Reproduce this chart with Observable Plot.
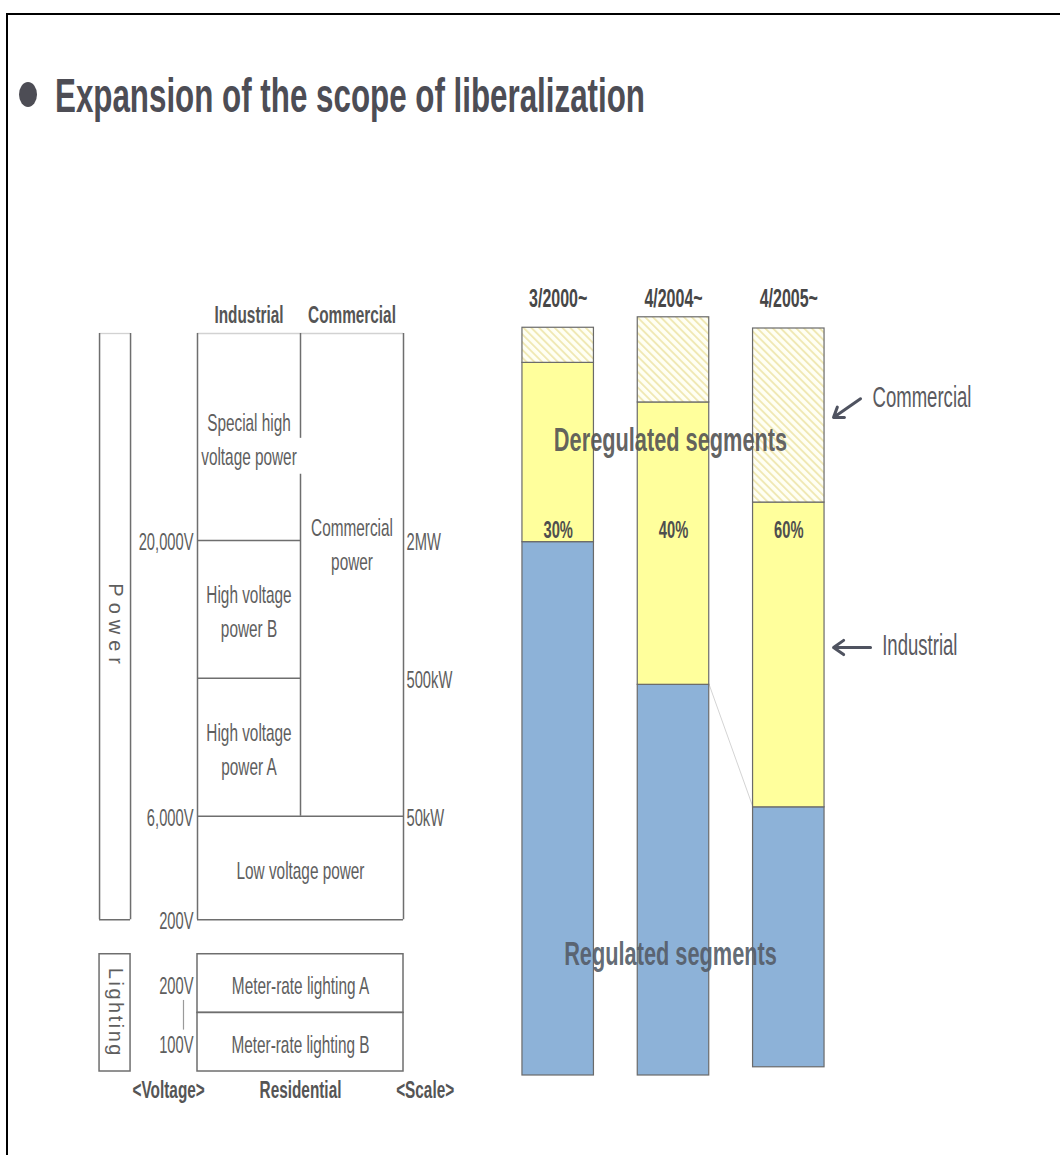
<!DOCTYPE html>
<html>
<head>
<meta charset="utf-8">
<script src="https://cdn.jsdelivr.net/npm/d3@7"></script>
<script src="https://cdn.jsdelivr.net/npm/@observablehq/plot@0.6"></script>
<style>
html, body { margin: 0; padding: 0; background: #fff; overflow: hidden; }
#page { position: relative; width: 1060px; height: 1155px; overflow: hidden; background: #fff;
  font-family: "Liberation Sans", Arial, Helvetica, sans-serif; }
#frame { position: absolute; left: 6px; top: 13px; width: 1100px; height: 1200px;
  border-left: 2px solid #000; border-top: 2px solid #000; }
#bullet { position: absolute; left: 19px; top: 82px; width: 18px; height: 25px; border-radius: 50%; background: #4d4d55; }
#title { position: absolute; left: 55px; top: 71px; font-weight: bold; font-size: 49px; line-height: 1;
  color: #4d4d55; white-space: nowrap; transform-origin: 0 0; }
.layer { position: absolute; left: 0; top: 0; }
</style>
</head>
<body>
<div id="page">
  <div id="frame"></div>
  <div id="bullet"></div>
  <div id="title">Expansion of the scope of liberalization</div>
  <div id="left" class="layer"></div>
  <div id="right" class="layer"></div>
</div>
<script>
// ---------------- data: left diagram (tariff categories) ----------------
const columns = ["Industrial", "Commercial"];
const tierNames = ["Special high\nvoltage power", "High voltage\npower B", "High voltage\npower A",
  "Commercial\npower", "Low voltage power", "Meter-rate lighting A", "Meter-rate lighting B"];
const tierGroup = ["Industrial", "Industrial", "Industrial", "Commercial", "Power", "Lighting", "Lighting"];
const tierTop = [0, 3, 5, 0, 7, 9, 9.85];
const tierBottom = [3, 5, 7, 7, 8.5, 9.85, 10.7];
const voltageLabels = ["20,000V", "6,000V", "200V"];
const voltageLevels = [3, 7, 8.5];
const scaleLabels = ["2MW", "500kW", "50kW"];
const scaleLevels = [3, 5, 7];
const lightingVoltages = ["200V", "100V"];
const sideGroups = ["Power", "Lighting"];
const sideTop = [0, 9];
const sideBottom = [8.5, 10.7];
const footerLabels = ["<Voltage>", "Residential", "<Scale>"];

// ---------------- data: right chart (share of market liberalized) ----------------
const periods = ["3/2000~", "4/2004~", "4/2005~"];
const regulated = [71.4, 52.3, 34.8];
const industrial = [24.0, 37.8, 40.8];
const commercial = [4.7, 11.4, 23.3];
const baseline = [0, 0, 1.1];
const shares = ["30%", "40%", "60%"];
const annotationLabels = ["Commercial", "Industrial"];

// ---------------- styling ----------------
const FONT = '"Liberation Sans", Arial, Helvetica, sans-serif';
const SQUEEZE = 0.64;
const LINE = "#6e6e6e";
const TXT = "#5e5e5e";
const BLUE = "#8db2d8";
const YELLOW = "#ffff9c";
const EDGE = "#6a6a6a";

// ---------------- left diagram ----------------
const span = {Industrial: [0, 1], Commercial: [1, 2], Power: [0, 2], Lighting: [0, 2]};
const tiers = tierNames.map((name, i) => ({name, group: tierGroup[i], top: tierTop[i], bottom: tierBottom[i]}));
const industrialBreaks = tiers.filter(d => d.group === "Industrial").map(d => d.bottom).slice(0, -1);
const powerBottom = tiers.find(d => d.group === "Power").bottom;
const commercialTier = tiers.find(d => d.group === "Commercial");
const lightingTiers = tiers.filter(d => d.group === "Lighting");
const SIDE = [-0.951, -0.65];

const leftSvg = Plot.plot({
  width: 1060, height: 1155, margin: 0,
  x: {domain: [0, 2], range: [197, 403], axis: null},
  y: {domain: [0, 10.7], range: [333, 1071], axis: null},
  style: {background: "transparent", fontFamily: FONT},
  marks: [
    // main power block
    Plot.ruleY([0], {x1: 0, x2: 2, stroke: "#d2d2d2", strokeWidth: 1.3}),
    Plot.ruleX([0, 2], {y1: 0, y2: powerBottom, stroke: LINE, strokeWidth: 1.5}),
    Plot.ruleY(industrialBreaks, {x1: 0, x2: 1, stroke: LINE, strokeWidth: 1.5}),
    Plot.ruleY([commercialTier.bottom, powerBottom], {x1: 0, x2: 2, stroke: LINE, strokeWidth: 1.5}),
    Plot.ruleX([[0, 1.52], [2.04, commercialTier.bottom]], {x: () => 1, y1: d => d[0], y2: d => d[1], stroke: LINE, strokeWidth: 1.5}),
    // lighting block
    Plot.rect(lightingTiers, {x1: 0, x2: 2, y1: "top", y2: "bottom", fill: "none", stroke: LINE, strokeWidth: 1.5}),
    // side brackets
    Plot.ruleY([0], {x1: SIDE[0], x2: SIDE[1], stroke: "#d2d2d2", strokeWidth: 1.3}),
    Plot.ruleX(SIDE, {y1: sideTop[0], y2: sideBottom[0], stroke: LINE, strokeWidth: 1.5}),
    Plot.ruleY([sideBottom[0]], {x1: SIDE[0], x2: SIDE[1], stroke: LINE, strokeWidth: 1.5}),
    Plot.rect([sideGroups[1]], {x1: SIDE[0], x2: SIDE[1], y1: sideTop[1], y2: sideBottom[1], fill: "none", stroke: LINE, strokeWidth: 1.5}),
    Plot.ruleX([-0.136], {y1: 9.67, y2: 10.1, stroke: "#9a9a9a", strokeWidth: 1.2}),
    // tier names
    Plot.text(tiers, {
      x: d => (span[d.group][0] + span[d.group][1]) / 2,
      y: d => d.group === "Commercial" ? d.top + 3.02 : (d.top + d.bottom) / 2,
      text: "name", fontSize: 24, lineHeight: 1.42, fill: TXT
    }),
    // column headers
    Plot.text(columns, {x: (d, i) => i + 0.5, y: () => -0.26, text: d => d, fontSize: 24, fontWeight: "bold", fill: "#555"}),
    // voltage and scale labels
    Plot.text(voltageLabels, {x: () => 0, y: (d, i) => voltageLevels[i], text: d => d, textAnchor: "end", dx: -4, dy: 2, fontSize: 23, fill: TXT}),
    Plot.text(scaleLabels, {x: () => 2, y: (d, i) => scaleLevels[i], text: d => d, textAnchor: "start", dx: 3, dy: 2, fontSize: 23, fill: TXT}),
    Plot.text(lightingVoltages, {x: () => 0, y: (d, i) => (lightingTiers[i].top + lightingTiers[i].bottom) / 2 + 0.05, text: d => d, textAnchor: "end", dx: -4, fontSize: 23, fill: TXT}),
    // side labels (vertical)
    Plot.text(sideGroups, {x: () => (SIDE[0] + SIDE[1]) / 2, y: (d, i) => (sideTop[i] + sideBottom[i]) / 2, text: d => d, rotate: 90, fontSize: 20, fill: TXT}),
    // footer
    Plot.text(footerLabels, {x: (d, i) => [-0.28, 1, 2.21][i], y: () => 10.97, text: d => d, fontSize: 24, fontWeight: "bold", fill: "#555"})
  ]
});
document.getElementById("left").appendChild(leftSvg);

// ---------------- right chart ----------------
const BW = 0.31;
const rows = periods.map((period, i) => {
  const base = baseline[i], reg = base + regulated[i], ind = reg + industrial[i], top = ind + commercial[i];
  return {period, i, base, reg, ind, top, share: shares[i]};
});
const annotations = annotationLabels.map((label, k) => k === 0
  ? {label, x1: 2.622, y1: 90.6, x2: 2.388, y2: 88.1, tx: 2.726, ty: 90.7}
  : {label, x1: 2.709, y1: 57.3, x2: 2.388, y2: 57.3, tx: 2.81, ty: 57.5});

const rightSvg = Plot.plot({
  width: 1060, height: 1155, margin: 0,
  x: {domain: [0, 2], range: [557.7, 788.3], axis: null},
  y: {domain: [0, 100], range: [1075, 328], axis: null},
  style: {background: "transparent", fontFamily: FONT},
  marks: [
    Plot.link([rows[1]], {x1: d => d.i + BW, y1: "reg", x2: d => d.i + 1 - BW, y2: () => rows[2].reg, stroke: "#d4d4d4", strokeWidth: 1}),
    Plot.rect(rows, {x1: d => d.i - BW, x2: d => d.i + BW, y1: "base", y2: "reg", fill: BLUE, stroke: EDGE, strokeWidth: 1.2}),
    Plot.rect(rows, {x1: d => d.i - BW, x2: d => d.i + BW, y1: "reg", y2: "ind", fill: YELLOW, stroke: EDGE, strokeWidth: 1.2}),
    Plot.rect(rows, {x1: d => d.i - BW, x2: d => d.i + BW, y1: "ind", y2: "top", fill: "url(#hatch)", stroke: EDGE, strokeWidth: 1.2}),
    Plot.text(rows, {x: "i", y: () => 104, text: "period", fontSize: 25, fontWeight: "bold", fill: "#474747"}),
    Plot.text(rows, {x: "i", y: () => 72.9, text: "share", fontSize: 23, fontWeight: "bold", fill: "#4f4f4f"}),
    Plot.text(["Deregulated segments"], {x: () => 0.974, y: () => 85.1, text: d => d, fontSize: 34, fontWeight: "bold", fill: "#555", fillOpacity: 0.92}),
    Plot.text(["Regulated segments"], {x: () => 0.974, y: () => 16.3, text: d => d, fontSize: 34, fontWeight: "bold", fill: "#555d68", fillOpacity: 0.92}),
    Plot.arrow(annotations, {x1: "x1", y1: "y1", x2: "x2", y2: "y2", stroke: "#4f5360", strokeWidth: 3, headLength: 11, headAngle: 70}),
    Plot.text(annotations, {x: "tx", y: "ty", text: "label", textAnchor: "start", fontSize: 29, fill: "#5a5a60"})
  ]
});
document.getElementById("right").appendChild(rightSvg);

// hatch pattern for the commercial segments
const defs = d3.select(rightSvg).insert("defs", ":first-child");
const pat = defs.append("pattern").attr("id", "hatch").attr("patternUnits", "userSpaceOnUse")
  .attr("width", 5.5).attr("height", 5.5).attr("patternTransform", "rotate(-45)");
pat.append("rect").attr("width", 5.5).attr("height", 5.5).attr("fill", "#fffff4");
pat.append("rect").attr("width", 1.9).attr("height", 5.5).attr("fill", "#f0e8b4");

// condensed lettering, as in the original slide; vertical side labels stay upright with spacing
function squeeze(svg) {
  svg.querySelectorAll("text").forEach(t => {
    const content = t.textContent;
    const side = sideGroups.indexOf(content);
    if (side >= 0) {
      t.style.letterSpacing = side === 0 ? "6px" : "2.5px";
      return;
    }
    let tr = t.getAttribute("transform");
    if (!tr) {
      const x = +(t.getAttribute("x") || 0), y = +(t.getAttribute("y") || 0);
      t.removeAttribute("x"); t.removeAttribute("y");
      tr = `translate(${x},${y})`;
    }
    t.setAttribute("transform", tr + ` scale(${SQUEEZE},1)`);
  });
}
squeeze(leftSvg);
squeeze(rightSvg);

// title condensed to its width in the slide
const title = document.getElementById("title");
const w = title.getBoundingClientRect().width;
title.style.transform = `scaleX(${590 / w})`;
</script>
</body>
</html>
